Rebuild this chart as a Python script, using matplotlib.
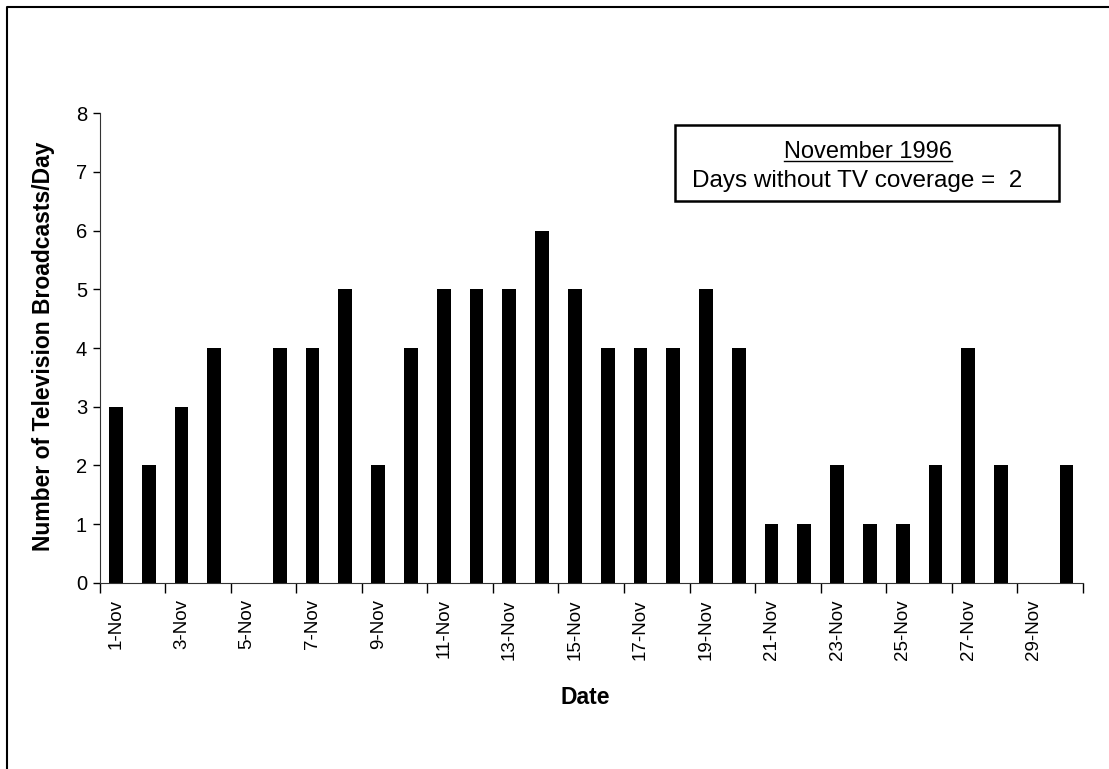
import matplotlib
matplotlib.use("Agg")
import matplotlib.pyplot as plt
from matplotlib.patches import Rectangle
from matplotlib.lines import Line2D
import numpy as np

plt.rcParams['font.family'] = ['Liberation Sans', 'DejaVu Sans']

days = list(range(1, 31))
labels = [f"{d}-Nov" for d in days]
broadcasts = [3, 2, 3, 4, 0, 4, 4, 5, 2, 4, 5, 5, 5, 6, 5, 4, 4, 4, 5, 4,
              1, 1, 2, 1, 1, 2, 4, 2, 0, 2]
box_title = "November 1996"
box_text = "Days without TV coverage =  2"

W, H = 1109, 769
fig = plt.figure(figsize=(W / 100, H / 100), dpi=100)
ax = fig.add_axes([99.5 / W, 1 - 582.7 / H, (1083 - 99.5) / W, (582.7 - 113.3) / H])

x = np.arange(len(days))
ax.bar(x, broadcasts, width=0.42, color='black')

ax.set_xlim(-0.5, len(days) - 0.5)
ax.set_ylim(0, 8)
ax.set_yticks(range(0, 9))
ax.tick_params(axis='y', labelsize=14.5, length=5, width=1, pad=4)

# major ticks at category boundaries (every 2), labels at odd days
ax.set_xticks(np.arange(-0.5, len(days), 2))
ax.set_xticklabels([])
ax.set_xticks(x[::2], minor=True)
ax.set_xticklabels(labels[::2], minor=True, rotation=90, fontsize=13.5)
ax.tick_params(axis='x', which='major', length=7, width=1)
ax.tick_params(axis='x', which='minor', length=0, pad=12)

for s in ['top', 'right']:
    ax.spines[s].set_visible(False)
for s in ['left', 'bottom']:
    ax.spines[s].set_color('#333333')

fig.text(44 / W, 1 - 346 / H, "Number of Television Broadcasts/Day", rotation=90,
         ha='center', va='center', fontsize=16.5, fontweight='bold')
fig.text(585 / W, 1 - 697 / H, "Date", ha='center', va='center',
         fontsize=16.5, fontweight='bold')

# annotation box
fig.patches.append(Rectangle((675 / W, 1 - 201 / H), (1059 - 675) / W, (201 - 125) / H,
                             transform=fig.transFigure, fill=False, edgecolor='black',
                             linewidth=1.8))
t1 = fig.text(868 / W, 1 - 152 / H, box_title, ha='center', va='center', fontsize=17)
fig.text(857 / W, 1 - 181 / H, box_text, ha='center', va='center', fontsize=17.5)

# underline for title
fig.canvas.draw()
bb = t1.get_window_extent(renderer=fig.canvas.get_renderer())
uy = (bb.y0 + 2) / H
fig.add_artist(Line2D([bb.x0 / W, bb.x1 / W], [uy, uy], transform=fig.transFigure,
                      color='black', linewidth=1))

# outer chart frame (top and left visible)
fig.add_artist(Line2D([7 / W, 7 / W, 1.0], [0, 1 - 7 / H, 1 - 7 / H],
                      transform=fig.transFigure, color='black', linewidth=1.5))

fig.savefig("out.png", dpi=100)
